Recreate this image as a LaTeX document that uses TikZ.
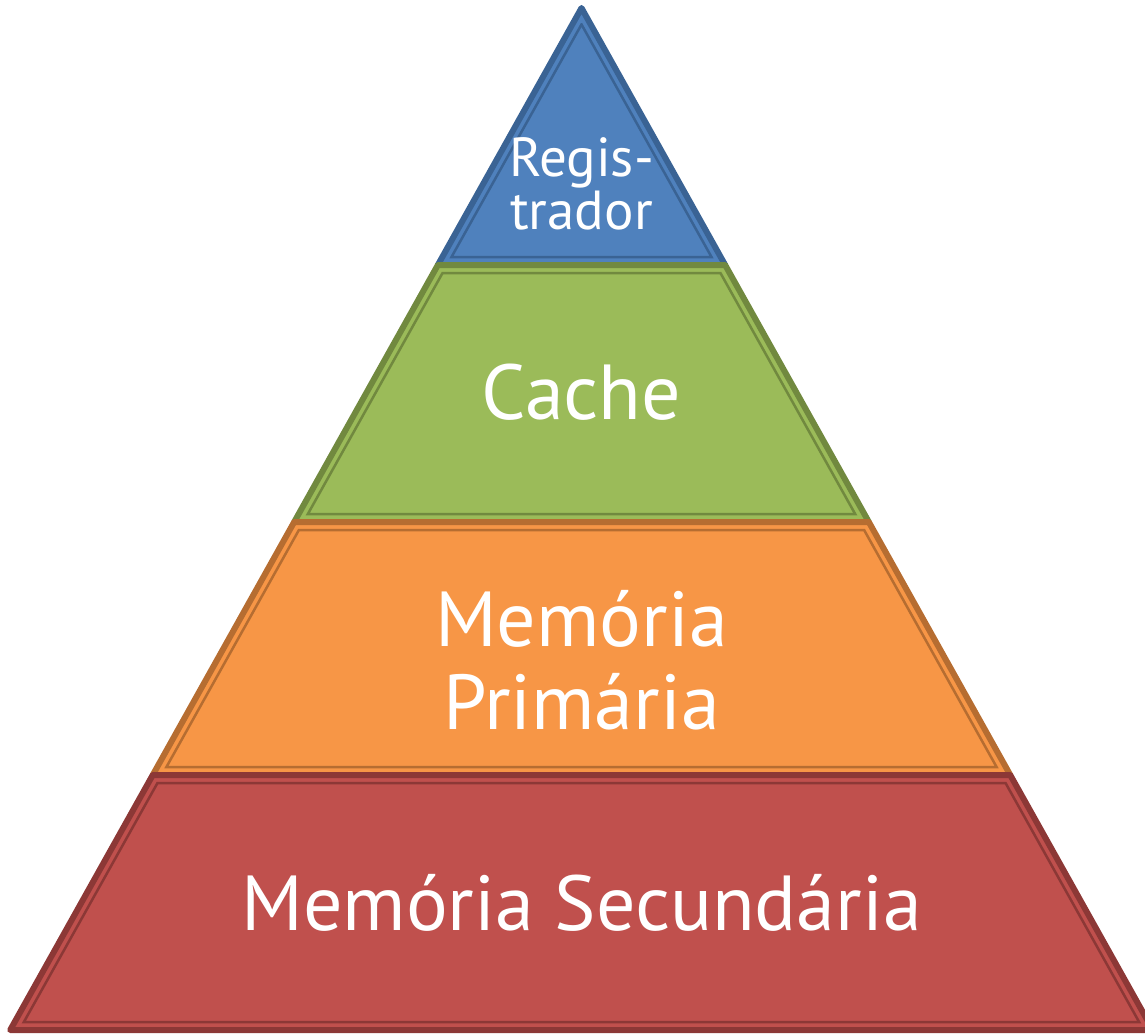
\documentclass[tikz,border=0pt]{standalone}
\usepackage{fontspec}
\setmainfont{PT Sans}
\definecolor{bluefill}{HTML}{4F81BD}
\definecolor{blueline}{HTML}{3A6394}
\definecolor{greenfill}{HTML}{9BBB59}
\definecolor{greenline}{HTML}{71893F}
\definecolor{orangefill}{HTML}{F79646}
\definecolor{orangeline}{HTML}{B66D31}
\definecolor{redfill}{HTML}{C0504D}
\definecolor{redline}{HTML}{8C3836}
\newcommand\pyrlayer[4]{%
  \pgfmathsetmacro\ptl{581.5-0.559*(#1-8)}%
  \pgfmathsetmacro\ptr{581.5+0.559*(#1-8)}%
  \pgfmathsetmacro\pbl{581.5-0.559*(#2-8)}%
  \pgfmathsetmacro\pbr{581.5+0.559*(#2-8)}%
  \fill[#3] (\ptl,#1) -- (\ptr,#1) -- (\pbr,#2) -- (\pbl,#2) -- cycle;
  \draw[outerline=#4] (\ptl,#1) -- (\ptr,#1) -- (\pbr,#2) -- (\pbl,#2) -- cycle;
  \pgfmathsetmacro\ity{max(#1+8,8+9.2/0.559)}%
  \pgfmathsetmacro\iby{#2-8}%
  \pgfmathsetmacro\itl{581.5-max(0,0.559*(\ity-8)-9.2)}%
  \pgfmathsetmacro\itr{581.5+max(0,0.559*(\ity-8)-9.2)}%
  \pgfmathsetmacro\ibl{581.5-(0.559*(\iby-8)-9.2)}%
  \pgfmathsetmacro\ibr{581.5+(0.559*(\iby-8)-9.2)}%
  \draw[innerline=#4] (\itl,\ity) -- (\itr,\ity) -- (\ibr,\iby) -- (\ibl,\iby) -- cycle;
}
\begin{document}
\begin{tikzpicture}[x=1pt,y=-1pt,
  outerline/.style={draw=#1,line width=6pt,line join=round},
  innerline/.style={draw=#1,line width=2.5pt,line join=miter},
  lbl/.style={text=white,align=center,inner sep=0pt}]
\useasboundingbox (0,0) rectangle (1145,1035);
\clip (0,0) rectangle (1145,1035);
\pyrlayer{8}{265}{bluefill}{blueline}
\pyrlayer{265}{522}{greenfill}{greenline}
\pyrlayer{522}{775}{orangefill}{orangeline}
\pyrlayer{775}{1030}{redfill}{redline}
\node[lbl,font=\fontsize{55}{53}\selectfont] (reg) at (581.5,184) {Regis-\\trador};
\node[lbl,font=\fontsize{78}{83}\selectfont] (cache) at (581.5,392) {Cache};
\node[lbl,font=\fontsize{78}{83}\selectfont] (prim) at (581.5,660) {Memória\\Primária};
\node[lbl,font=\fontsize{78}{83}\selectfont] (sec) at (581.5,903) {Memória Secundária};
\end{tikzpicture}
\end{document}
